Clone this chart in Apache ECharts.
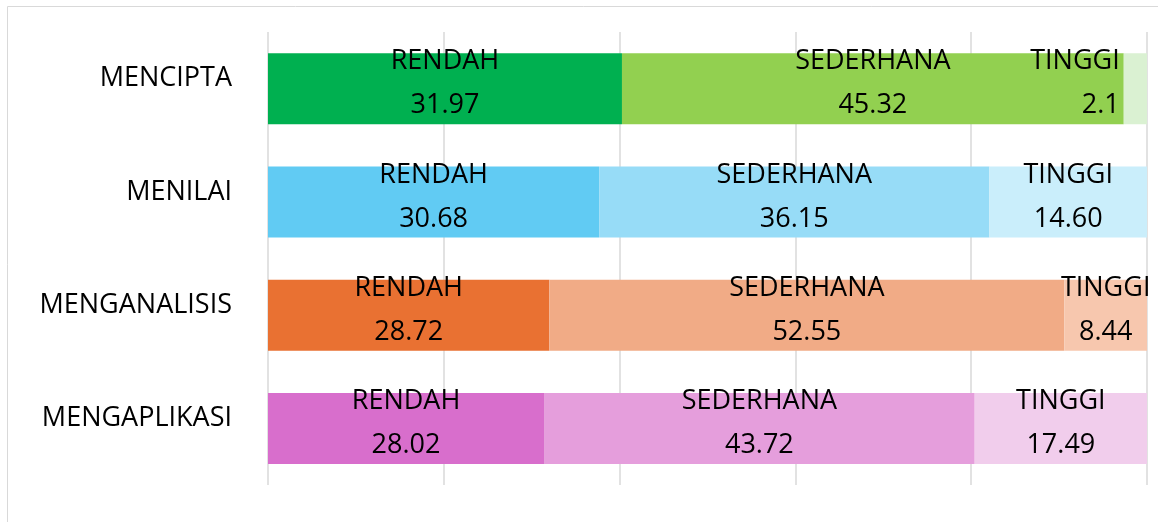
<!DOCTYPE html>
<html lang="en">
<head>
<meta charset="UTF-8">
<title>Chart</title>
<script src="https://cdn.jsdelivr.net/npm/echarts@6/dist/echarts.min.js"></script>
<style>
  html, body { margin: 0; padding: 0; background: #fff; }
  #main { width: 1158px; height: 522px; }
</style>
</head>
<body>
<div id="main"></div>
<script>
// categories bottom -> top (yAxis category order)
const kategori = ['MENGAPLIKASI', 'MENGANALISIS', 'MENILAI', 'MENCIPTA'];
const tahap = ['RENDAH', 'SEDERHANA', 'TINGGI'];
// values as printed on the bars
const rendah    = ['28.02', '28.72', '30.68', '31.97'];
const sederhana = ['43.72', '52.55', '36.15', '45.32'];
const tinggi    = ['17.49', '8.44', '14.60', '2.1'];

// colours per category, one shade per level
const warna = {
  MENGAPLIKASI: ['#D86ECC', '#E59EDC', '#F1CDEC'],
  MENGANALISIS: ['#E97132', '#F1AB86', '#F7C7AE'],
  MENILAI:      ['#61CBF3', '#97DCF7', '#CAEEFB'],
  MENCIPTA:     ['#00B050', '#92D050', '#DAF1D2']
};

const semua = [rendah, sederhana, tinggi];
const jumlah = kategori.map((k, i) => semua.reduce((s, arr) => s + Number(arr[i]), 0));

const FONT = '"Open Sans", "Noto Sans", sans-serif';

function buatSeri(s) {
  return {
    name: tahap[s],
    type: 'bar',
    stack: 'total',
    barWidth: 71,
    data: kategori.map((k, i) => {
      const pct = Number(semua[s][i]) / jumlah[i] * 100;
      const item = {
        value: pct,
        teks: semua[s][i],
        itemStyle: { color: warna[k][s] }
      };
      // very thin segment: put its label just left of it
      if (pct < 5) {
        item.label = { position: 'left', distance: 4, align: 'right' };
      }
      return item;
    }),
    label: {
      show: true,
      position: 'inside',
      offset: [0, -5],
      formatter: p => '{n|' + tahap[s] + '}\n{v|' + p.data.teks + '}',
      rich: {
        n: { fontSize: 27, lineHeight: 44, color: '#000', fontFamily: FONT },
        v: { fontSize: 27, lineHeight: 44, color: '#000', fontFamily: FONT }
      }
    },
    emphasis: { disabled: true }
  };
}

const chart = echarts.init(document.getElementById('main'), null, { renderer: 'canvas' });
chart.setOption({
  animation: false,
  textStyle: { fontFamily: FONT },
  graphic: [{
    type: 'rect',
    shape: { x: 7.5, y: 6.5, width: 1300, height: 700 },
    style: { fill: 'none', stroke: '#d9d9d9', lineWidth: 1 },
    silent: true,
    z: -10
  }],
  grid: { left: 268, right: 11, top: 32, bottom: 37, containLabel: false },
  xAxis: {
    type: 'value',
    min: 0,
    max: 100,
    interval: 20,
    axisLabel: { show: false },
    axisLine: { show: false },
    axisTick: { show: false },
    splitLine: { show: true, lineStyle: { color: '#d9d9d9', width: 1.5 } }
  },
  yAxis: {
    type: 'category',
    data: kategori,
    axisLine: { show: false },
    axisTick: { show: false },
    axisLabel: {
      margin: 36,
      fontSize: 27,
      color: '#000',
      fontFamily: FONT,
      verticalAlign: 'bottom',
      lineHeight: 20
    }
  },
  series: [0, 1, 2].map(buatSeri)
});
</script>
</body>
</html>
